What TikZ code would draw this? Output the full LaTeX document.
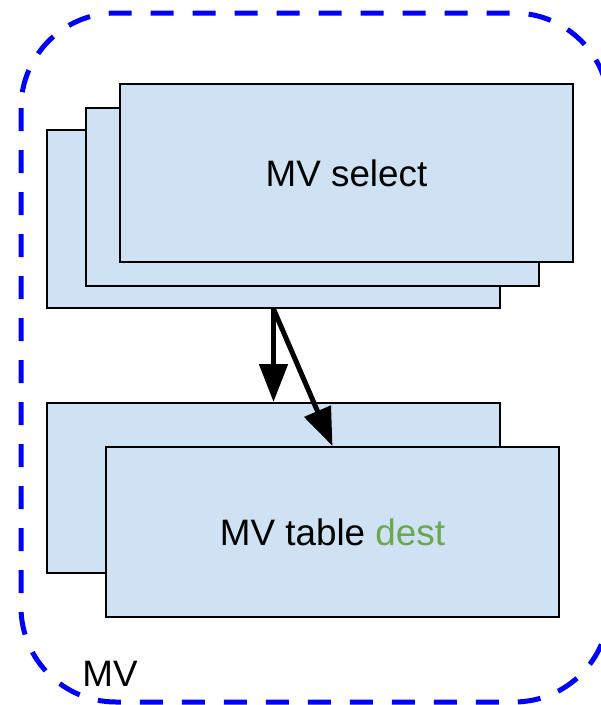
\documentclass[tikz,border=0pt]{standalone}
\usepackage{fontspec}
\setmainfont{Liberation Sans}
\usetikzlibrary{arrows.meta}
\definecolor{boxfill}{HTML}{CFE2F3}
\definecolor{destgreen}{HTML}{6AA84F}
\tikzset{
  stackbox/.style={draw=black, line width=2pt, fill=boxfill, rectangle, inner sep=0pt,
    minimum width=453pt, font=\fontsize{36.8}{44}\selectfont},
  groupframe/.style={draw={rgb,255:red,0;green,0;blue,255}, line width=5pt, dash pattern=on 23pt off 19pt, rounded corners=95pt},
  bigarrow/.style={draw=black, line width=5pt, -{Triangle[length=38pt,width=28pt]}}
}
\begin{document}
\begin{tikzpicture}[x=1pt,y=-1pt]
\useasboundingbox (0,0) rectangle (601,705);
\clip (0,0) rectangle (601,705);
\draw[groupframe] (21,13) rectangle (609,702);
\node[font=\fontsize{36.8}{44}\selectfont] (mvlabel) at (110,674) {MV};
% select stack
\node[stackbox, minimum height=178pt] (s1) at (273.5,219) {};
\node[stackbox, minimum height=178pt] (s2) at (312.5,197) {};
\node[stackbox, minimum height=178pt] (s3) at (346.5,173) {MV select};
% table stack
\node[stackbox, minimum height=170pt] (t1) at (273.5,488) {};
\node[stackbox, minimum height=170pt] (t2) at (332.5,532) {MV table \textcolor{destgreen}{dest}};
\draw[bigarrow] (s1.south) -- (t1.north);
\draw[bigarrow] (s1.south) -- (t2.north);
\end{tikzpicture}
\end{document}
